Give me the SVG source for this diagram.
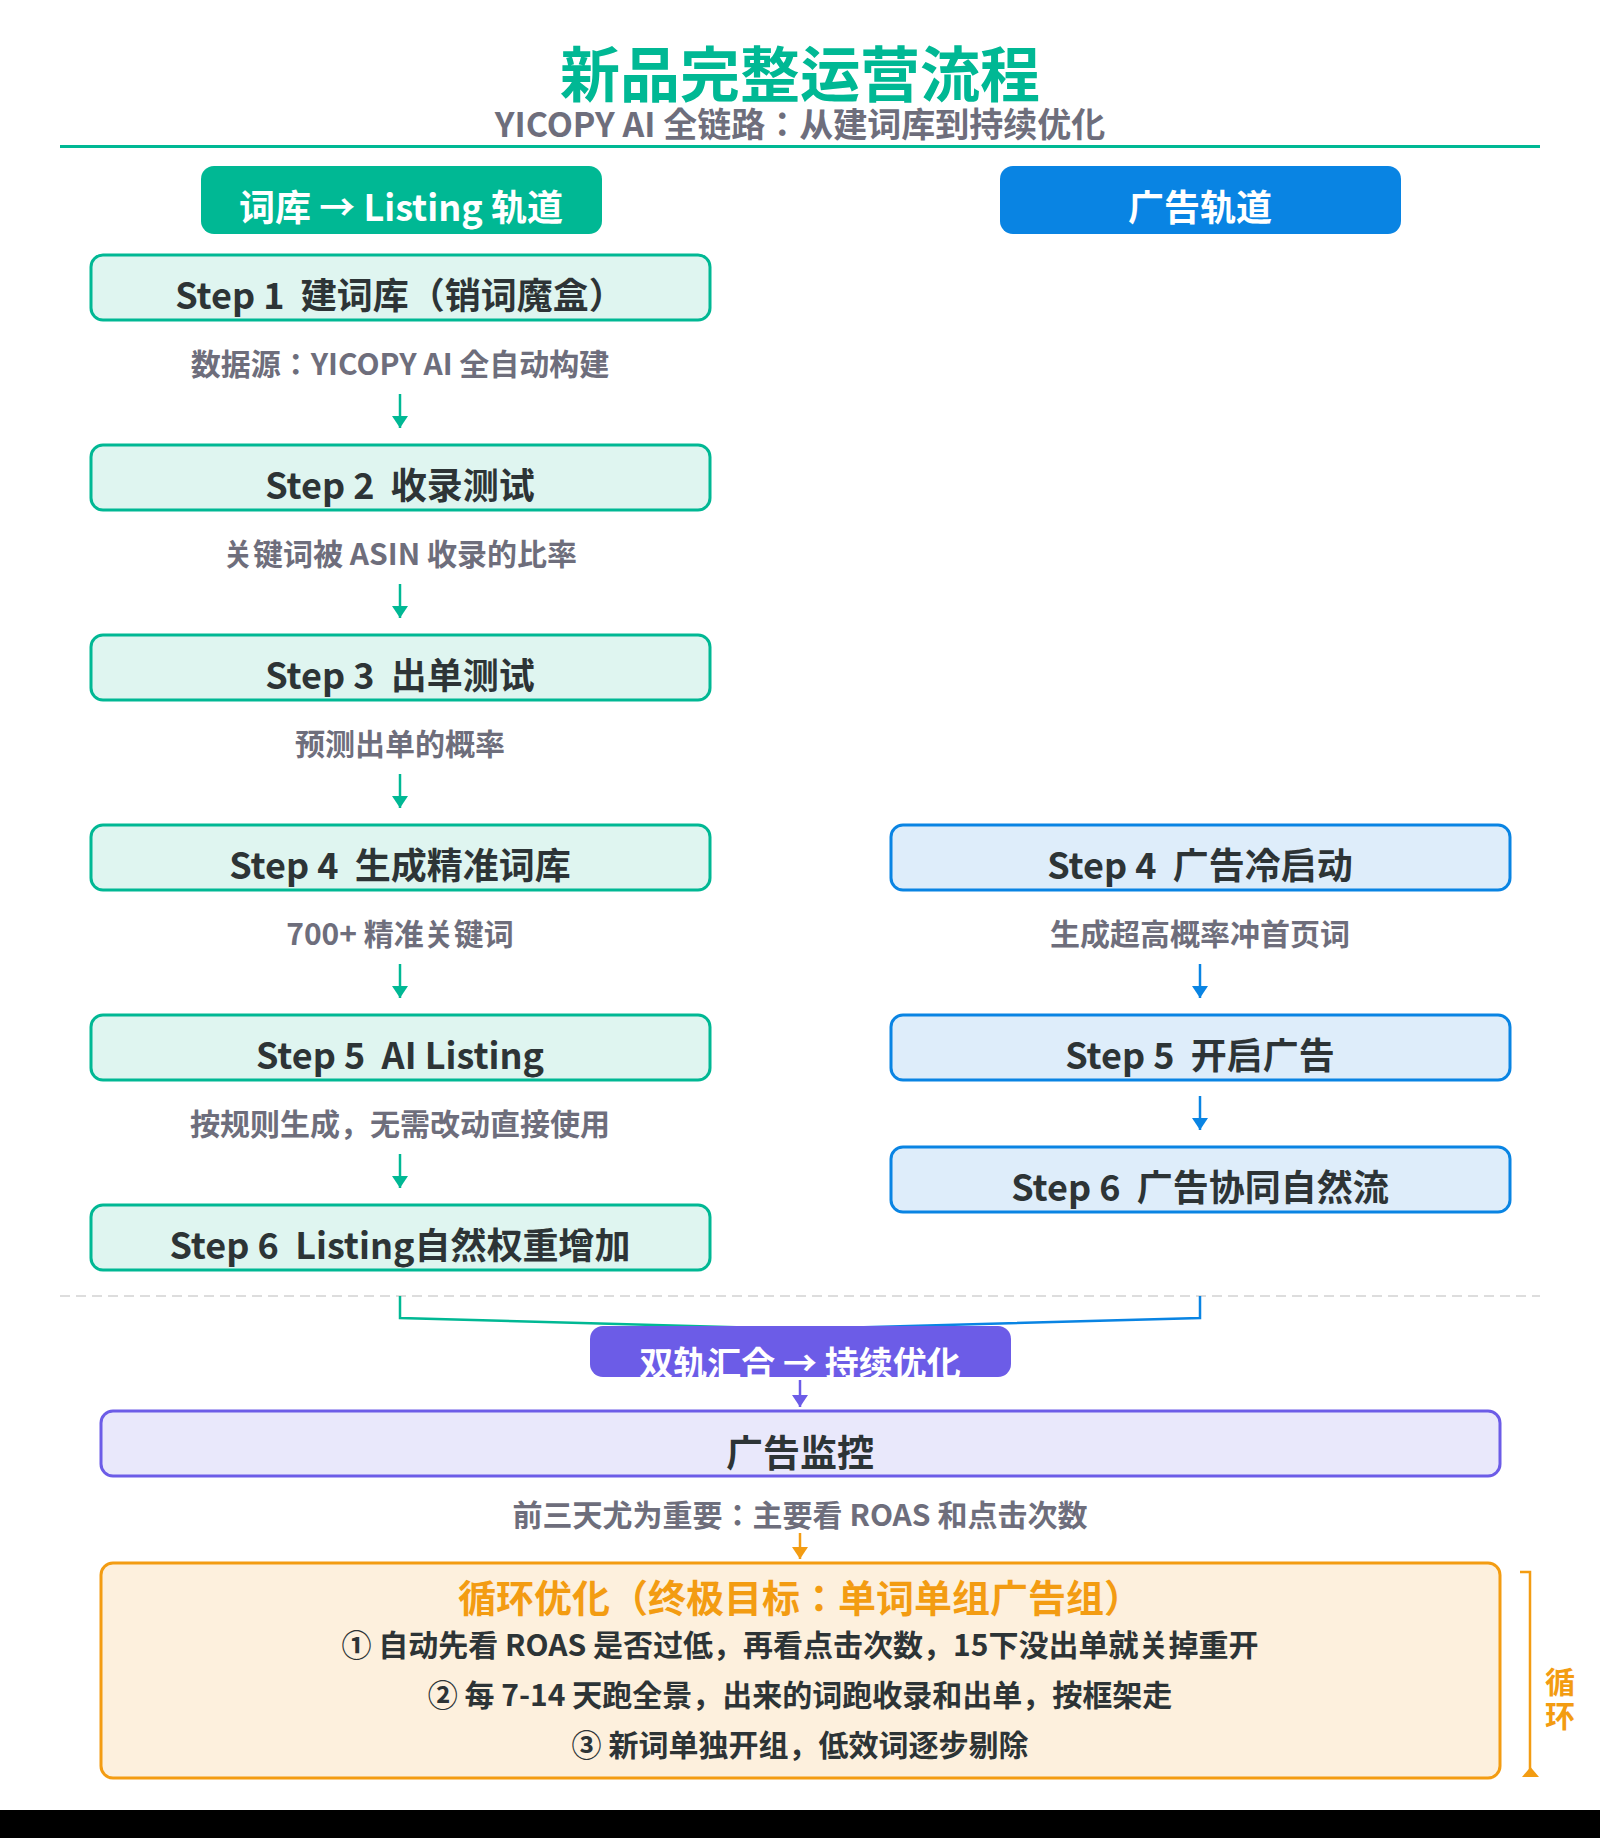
<svg xmlns="http://www.w3.org/2000/svg" width="1600" height="1838" viewBox="0 0 1600 1838">
<style>
text{font-family:"Noto Sans CJK JP","Noto Sans CJK SC","Noto Sans",sans-serif;font-weight:700;text-anchor:middle}
.title{font-size:60px;fill:#00b894}
.sub{font-size:34px;fill:#6e6e7c}
.hdr{font-size:36px;fill:#ffffff}
.step{font-size:36px;fill:#2d3436}
.note{font-size:30px;fill:#6e6e7c}
.gbox{fill:#dff5f0;stroke:#00b894;stroke-width:3}
.bbox{fill:#deedfa;stroke:#0984e3;stroke-width:3}
.pbox{fill:#e9e8fb;stroke:#6c5ce7;stroke-width:3}
.obox{fill:#fdf0dd;stroke:#f39c12;stroke-width:3}
.ga{stroke:#00b894;stroke-width:2.5;fill:none;marker-end:url(#mg)}
.ba{stroke:#0984e3;stroke-width:2.5;fill:none;marker-end:url(#mb)}
.item{font-size:30px;fill:#2d3436}
.side{font-size:30px;fill:#f39c12}
</style>
<defs>
<marker id="mg" viewBox="0 0 12 16" refX="12" refY="8" markerWidth="12" markerHeight="16" markerUnits="userSpaceOnUse" orient="auto"><path d="M0,0 L12,8 L0,16 z" fill="#00b894"/></marker>
<marker id="mb" viewBox="0 0 12 16" refX="12" refY="8" markerWidth="12" markerHeight="16" markerUnits="userSpaceOnUse" orient="auto"><path d="M0,0 L12,8 L0,16 z" fill="#0984e3"/></marker>
<marker id="mp" viewBox="0 0 12 16" refX="12" refY="8" markerWidth="12" markerHeight="16" markerUnits="userSpaceOnUse" orient="auto"><path d="M0,0 L12,8 L0,16 z" fill="#6c5ce7"/></marker>
<marker id="mo" viewBox="0 0 12 16" refX="12" refY="8" markerWidth="12" markerHeight="16" markerUnits="userSpaceOnUse" orient="auto"><path d="M0,0 L12,8 L0,16 z" fill="#f39c12"/></marker>
</defs>
<rect width="1600" height="1838" fill="#ffffff"/>

<g id="header">
<text class="title" x="800" y="97">新品完整运营流程</text>
<text class="sub" x="800" y="137">YICOPY AI 全链路：从建词库到持续优化</text>
<line x1="60" y1="146.5" x2="1540" y2="146.5" stroke="#00b894" stroke-width="3"/>
</g>

<g id="track-listing">
<rect x="201" y="166" width="401" height="68" rx="13" fill="#00b894"/>
<text class="hdr" x="401" y="221">词库 → Listing 轨道</text>
</g>
<g id="track-ads">
<rect x="1000" y="166" width="401" height="68" rx="13" fill="#0984e3"/>
<text class="hdr" x="1200" y="221">广告轨道</text>
</g>

<g id="connectors">
<line class="ga" x1="400" y1="394" x2="400" y2="428"/>
<line class="ga" x1="400" y1="584" x2="400" y2="618"/>
<line class="ga" x1="400" y1="774" x2="400" y2="808"/>
<line class="ga" x1="400" y1="964" x2="400" y2="998"/>
<line class="ga" x1="400" y1="1154" x2="400" y2="1188"/>
<line class="ba" x1="1200" y1="964" x2="1200" y2="998"/>
<line class="ba" x1="1200" y1="1096" x2="1200" y2="1130"/>
<line x1="60" y1="1296" x2="1540" y2="1296" stroke="#dddddd" stroke-width="2" stroke-dasharray="10 6"/>
<path d="M400,1296 V1318 L800,1329" stroke="#00b894" stroke-width="2.5" fill="none"/>
<path d="M1200,1296 V1318 L800,1329" stroke="#0984e3" stroke-width="2.5" fill="none"/>
<line x1="800" y1="1380" x2="800" y2="1407" stroke="#6c5ce7" stroke-width="2.5" marker-end="url(#mp)"/>
<line x1="800" y1="1533" x2="800" y2="1559" stroke="#f39c12" stroke-width="2.5" marker-end="url(#mo)"/>
</g>

<g id="l-step1">
<rect class="gbox" x="91" y="255" width="619" height="65" rx="12"/>
<text class="step" x="400" y="309" xml:space="preserve">Step 1  建词库（销词魔盒）</text>
<text class="note" x="400" y="375">数据源：YICOPY AI 全自动构建</text>
</g>
<g id="l-step2">
<rect class="gbox" x="91" y="445" width="619" height="65" rx="12"/>
<text class="step" x="400" y="499" xml:space="preserve">Step 2  收录测试</text>
<text class="note" x="400" y="565">关键词被 ASIN 收录的比率</text>
</g>
<g id="l-step3">
<rect class="gbox" x="91" y="635" width="619" height="65" rx="12"/>
<text class="step" x="400" y="689" xml:space="preserve">Step 3  出单测试</text>
<text class="note" x="400" y="755">预测出单的概率</text>
</g>
<g id="l-step4">
<rect class="gbox" x="91" y="825" width="619" height="65" rx="12"/>
<text class="step" x="400" y="879" xml:space="preserve">Step 4  生成精准词库</text>
<text class="note" x="400" y="945">700+ 精准关键词</text>
</g>
<g id="l-step5">
<rect class="gbox" x="91" y="1015" width="619" height="65" rx="12"/>
<text class="step" x="400" y="1069" xml:space="preserve">Step 5  AI Listing</text>
<text class="note" x="400" y="1135">按规则生成，无需改动直接使用</text>
</g>
<g id="l-step6">
<rect class="gbox" x="91" y="1205" width="619" height="65" rx="12"/>
<text class="step" x="400" y="1259" xml:space="preserve">Step 6  Listing自然权重增加</text>
</g>

<g id="r-step4">
<rect class="bbox" x="891" y="825" width="619" height="65" rx="12"/>
<text class="step" x="1200" y="879" xml:space="preserve">Step 4  广告冷启动</text>
<text class="note" x="1200" y="945">生成超高概率冲首页词</text>
</g>
<g id="r-step5">
<rect class="bbox" x="891" y="1015" width="619" height="65" rx="12"/>
<text class="step" x="1200" y="1069" xml:space="preserve">Step 5  开启广告</text>
</g>
<g id="r-step6">
<rect class="bbox" x="891" y="1147" width="619" height="65" rx="12"/>
<text class="step" x="1200" y="1201" xml:space="preserve">Step 6  广告协同自然流</text>
</g>

<g id="merge">
<rect x="590" y="1326" width="421" height="51" rx="13" fill="#6c5ce7"/>
<text class="hdr" x="800" y="1376" style="font-size:34px">双轨汇合 → 持续优化</text>
</g>

<g id="monitor">
<rect class="pbox" x="101" y="1411" width="1399" height="65" rx="12"/>
<text class="step" x="800" y="1467" style="font-size:37px">广告监控</text>
<text class="note" x="800" y="1526">前三天尤为重要：主要看 ROAS 和点击次数</text>
</g>

<g id="loop">
<rect class="obox" x="101" y="1563" width="1399" height="215" rx="12"/>
<text x="800" y="1612" style="font-size:38px;fill:#f39c12">循环优化（终极目标：单词单组广告组）</text>
<text class="item" x="800" y="1656">① 自动先看 ROAS 是否过低，再看点击次数，15下没出单就关掉重开</text>
<text class="item" x="800" y="1706">② 每 7-14 天跑全景，出来的词跑收录和出单，按框架走</text>
<text class="item" x="800" y="1756">③ 新词单独开组，低效词逐步剔除</text>
</g>

<g id="loop-bracket">
<path d="M1520,1572 H1530 V1772" stroke="#f39c12" stroke-width="2.5" fill="none"/>
<polygon points="1522,1777 1539,1777 1530.5,1767" fill="#f39c12"/>
<text class="side" x="1560" y="1693">循</text>
<text class="side" x="1560" y="1727">环</text>
</g>

<text x="1497" y="1832" style="font-size:24px;fill:#d4d4d4;text-anchor:end;letter-spacing:2px">YICOPY.COM</text>
<rect x="0" y="1810" width="1600" height="28" fill="#000000"/>
</svg>
